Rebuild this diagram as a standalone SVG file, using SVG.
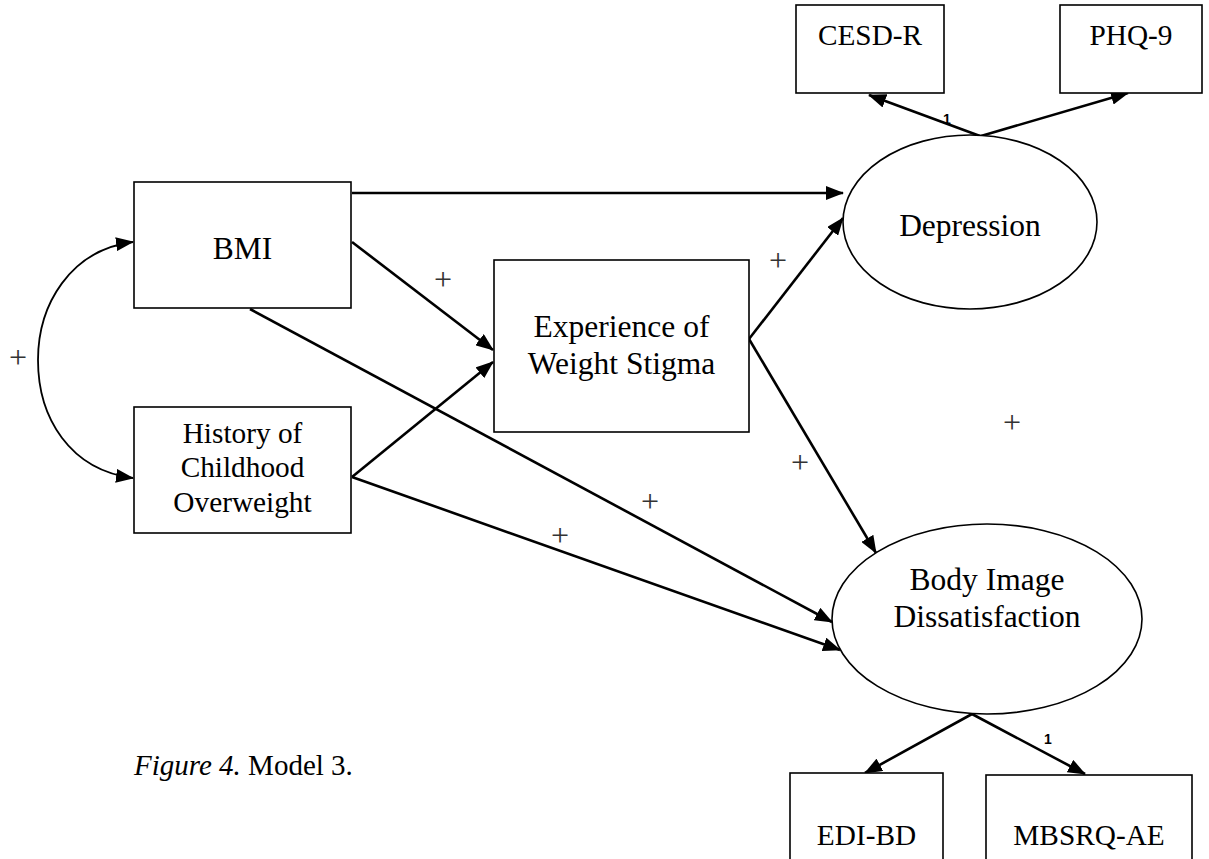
<svg xmlns="http://www.w3.org/2000/svg" width="1209" height="859" viewBox="0 0 1209 859">
<style>
.box{fill:#fff;stroke:#000;stroke-width:1.6}
.ell{fill:#fff;stroke:#000;stroke-width:1.6}
.t{font-family:"Liberation Serif","Times New Roman",serif;font-size:31.5px;fill:#000;text-anchor:middle}
.ts{font-family:"Liberation Serif","Times New Roman",serif;font-size:29.3px;fill:#000;text-anchor:middle}
.pl{font-family:"Liberation Serif","Times New Roman",serif;font-size:32px;fill:#333;text-anchor:middle}
.one{font-family:"Liberation Sans",Arial,sans-serif;font-size:14px;font-weight:bold;fill:#000;text-anchor:middle}
.c{fill:none;stroke:#000;stroke-width:2.6}
.cv{fill:none;stroke:#000;stroke-width:1.8}
</style>
<defs>
<marker id="ah" markerUnits="userSpaceOnUse" markerWidth="18" markerHeight="14" refX="17" refY="7" orient="auto" viewBox="0 0 18 14">
<path d="M0,0 L18,7 L0,14 z" fill="#000"/>
</marker>
<marker id="ah2" markerUnits="userSpaceOnUse" markerWidth="18" markerHeight="14" refX="17" refY="7" orient="auto-start-reverse" viewBox="0 0 18 14">
<path d="M0,0 L18,7 L0,14 z" fill="#000"/>
</marker>
</defs>
<rect width="1209" height="859" fill="#fff"/>

<g id="connectors">
<path class="cv" d="M133,242 C70,250 38,305 38,360 C38,418 70,470 133,478" marker-start="url(#ah2)" marker-end="url(#ah2)"/>
<line class="c" x1="352" y1="193" x2="843" y2="193" marker-end="url(#ah)"/>
<line class="c" x1="352" y1="242" x2="493" y2="350" marker-end="url(#ah)"/>
<line class="c" x1="352" y1="477" x2="493" y2="362" marker-end="url(#ah)"/>
<line class="c" x1="250" y1="309" x2="832" y2="622" marker-end="url(#ah)"/>
<line class="c" x1="352" y1="477" x2="840" y2="650" marker-end="url(#ah)"/>
<line class="c" x1="749" y1="339" x2="843" y2="218" marker-end="url(#ah)"/>
<line class="c" x1="749" y1="339" x2="876" y2="553" marker-end="url(#ah)"/>
<line class="c" x1="980" y1="136" x2="869" y2="95" marker-end="url(#ah)"/>
<line class="c" x1="981" y1="136" x2="1128" y2="93" marker-end="url(#ah)"/>
<line class="c" x1="972" y1="714" x2="865" y2="773" marker-end="url(#ah)"/>
<line class="c" x1="972" y1="714" x2="1085" y2="774" marker-end="url(#ah)"/>
</g>

<g id="labels">
<text class="pl" x="18" y="368">+</text>
<text class="pl" x="443" y="290">+</text>
<text class="pl" x="778" y="271">+</text>
<text class="pl" x="800" y="473">+</text>
<text class="pl" x="650" y="512">+</text>
<text class="pl" x="560" y="546">+</text>
<text class="pl" x="1012" y="433">+</text>
<text class="one" x="947" y="124">1</text>
<text class="one" x="1048" y="744">1</text>
</g>

<g id="bmi">
<rect class="box" x="134" y="182" width="217" height="126"/>
<text class="t" x="242.5" y="259">BMI</text>
</g>

<g id="history">
<rect class="box" x="134" y="407" width="217" height="126"/>
<text class="ts" x="242.5" y="443">History of</text>
<text class="ts" x="242.5" y="477">Childhood</text>
<text class="ts" x="242.5" y="512">Overweight</text>
</g>

<g id="stigma">
<rect class="box" x="494" y="260" width="255" height="172"/>
<text class="t" x="621.5" y="337">Experience of</text>
<text class="t" x="621.5" y="374">Weight Stigma</text>
</g>

<g id="depression">
<ellipse class="ell" cx="970" cy="222" rx="127" ry="87"/>
<text class="t" x="970" y="236">Depression</text>
</g>

<g id="bodyimage">
<ellipse class="ell" cx="987" cy="619" rx="155" ry="95"/>
<text class="t" x="987" y="590">Body Image</text>
<text class="t" x="987" y="627">Dissatisfaction</text>
</g>

<g id="cesdr">
<rect class="box" x="796" y="5" width="148" height="88"/>
<text class="ts" x="870" y="45">CESD-R</text>
</g>

<g id="phq9">
<rect class="box" x="1060" y="5" width="142" height="88"/>
<text class="ts" x="1131" y="45">PHQ-9</text>
</g>

<g id="edibd">
<rect class="box" x="790" y="773" width="153" height="110"/>
<text class="ts" x="866.5" y="845">EDI-BD</text>
</g>

<g id="mbsrqae">
<rect class="box" x="986" y="775" width="206" height="110"/>
<text class="ts" x="1089" y="845">MBSRQ-AE</text>
</g>

<g id="caption">
<text x="134" y="775" style="font-family:'Liberation Serif','Times New Roman',serif;font-size:29px;fill:#000"><tspan font-style="italic">Figure 4.</tspan> Model 3.</text>
</g>
</svg>
